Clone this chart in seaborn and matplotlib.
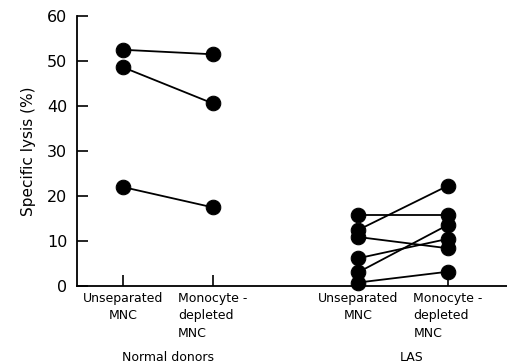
import numpy as np
import pandas as pd
import matplotlib
matplotlib.use("Agg")
import matplotlib.pyplot as plt
import seaborn as sns

# x positions of the four conditions
conditions = ["Unseparated\nMNC", "Monocyte -\ndepleted\nMNC", "Unseparated\nMNC", "Monocyte -\ndepleted\nMNC"]
cond_x = [1.0, 2.0, 3.63, 4.63]
groups = ["Normal donors", "LAS"]

# specific lysis (%) before / after monocyte depletion, one pair per donor
normal_unsep = [52.5, 48.6, 22.0]
normal_depl = [51.5, 40.6, 17.5]
las_unsep = [15.8, 12.5, 10.9, 6.2, 3.1, 0.8]
las_depl = [15.8, 22.3, 8.4, 10.5, 13.6, 3.2]

rows = []
for i, (a, b) in enumerate(zip(normal_unsep, normal_depl)):
    rows.append(("n%d" % i, cond_x[0], a))
    rows.append(("n%d" % i, cond_x[1], b))
for i, (a, b) in enumerate(zip(las_unsep, las_depl)):
    rows.append(("l%d" % i, cond_x[2], a))
    rows.append(("l%d" % i, cond_x[3], b))
df = pd.DataFrame(rows, columns=["donor", "x", "lysis"])

sns.set_style("ticks")
plt.rcParams["font.family"] = ["DejaVu Sans"]
plt.rcParams["text.color"] = "black"

fig = plt.figure(figsize=(5.07, 3.64), dpi=100)
ax = fig.add_axes([0.152, 0.214, 0.848, 0.742])

sns.lineplot(data=df, x="x", y="lysis", units="donor", estimator=None,
             color="black", lw=1.3, marker="o", markersize=10.5,
             markeredgecolor="black", ax=ax, legend=False, clip_on=False)

ax.set_xlim(0.485, 5.29)
ax.set_ylim(0, 60)
ax.set_yticks(range(0, 61, 10))
ax.set_xticks(cond_x)
ax.set_xticklabels([])
for xp, lab in zip(cond_x, conditions):
    ax.text(xp, -1.2, lab, ha="center", va="top", fontsize=9, color="black",
            multialignment="left" if "Monocyte" in lab else "center",
            linespacing=1.45)
ax.text(1.5, -15.8, groups[0], ha="center", va="center", fontsize=9, color="black")
ax.text(4.22, -15.8, groups[1], ha="center", va="center", fontsize=9, color="black")

ax.tick_params(axis="both", direction="in", length=8, width=1.2, labelsize=11.5,
               colors="black", labelcolor="black")
ax.tick_params(axis="y", pad=7)
ax.set_xlabel("")
ax.set_ylabel("Specific lysis (%)", fontsize=11, labelpad=8, color="black")
sns.despine(ax=ax)
for s in ["left", "bottom"]:
    ax.spines[s].set_linewidth(1.3)
    ax.spines[s].set_color("black")

fig.savefig("out.png", dpi=100)
